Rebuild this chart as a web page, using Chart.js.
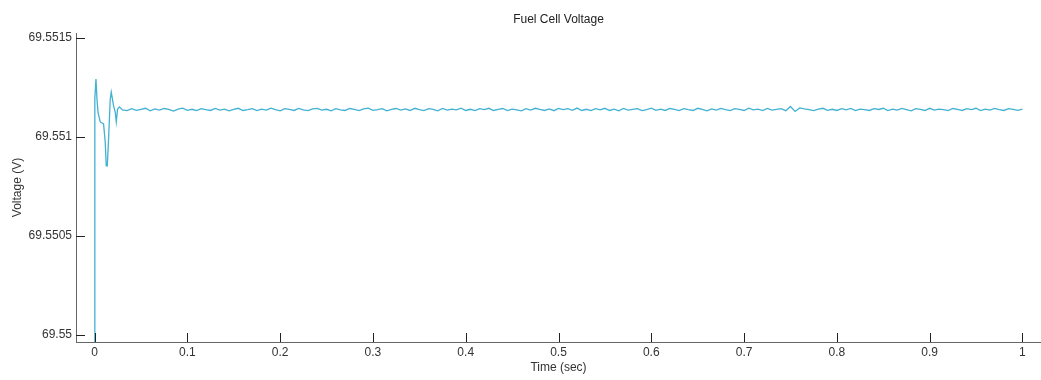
<!DOCTYPE html>
<html>
<head>
<meta charset="utf-8">
<title>Fuel Cell Voltage</title>
<script src="https://cdn.jsdelivr.net/npm/chart.js@4.4.1/dist/chart.umd.min.js"></script>
<style>
  html, body { margin: 0; padding: 0; background: #fff; }
  #wrap { width: 1041px; height: 380px; }
</style>
</head>
<body>
<div id="wrap"><canvas id="fcChart" width="1041" height="380"></canvas></div>
<script>
// data
const TITLE = "Fuel Cell Voltage";
const X_TITLE = "Time (sec)";
const Y_TITLE = "Voltage (V)";

const X_TICKS = [0, 0.1, 0.2, 0.3, 0.4, 0.5, 0.6, 0.7, 0.8, 0.9, 1];
const X_TICK_LABELS = ["0", "0.1", "0.2", "0.3", "0.4", "0.5", "0.6", "0.7", "0.8", "0.9", "1"];
const Y_TICKS = [69.55, 69.5505, 69.551, 69.5515];
const Y_TICK_LABELS = ["69.55", "69.5505", "69.551", "69.5515"];

// start-up transient
const TIME_START = [0, 0.0003, 0.0015, 0.0026, 0.0037, 0.0061, 0.0097, 0.0115, 0.0126, 0.0137,
  0.0151, 0.0169, 0.0180, 0.0205, 0.0223, 0.0234, 0.0248, 0.0269];
const VOLT_START = [69.5495, 69.551192, 69.551293, 69.551192, 69.551126, 69.551076, 69.551066, 69.550975, 69.550854, 69.550854,
  69.550990, 69.551192, 69.551227, 69.551157, 69.551126, 69.551076, 69.551141, 69.551152];

// steady part (noisy around 69.55114)
const TIME_STEADY = [
  0.030,0.035,0.040,0.045,0.050,0.055,0.060,0.065,0.070,0.075,0.080,0.085,0.090,0.095,0.100,0.105,0.110,0.115,0.120,0.125,
  0.130,0.135,0.140,0.145,0.150,0.155,0.160,0.165,0.170,0.175,0.180,0.185,0.190,0.195,0.200,0.205,0.210,0.215,0.220,0.225,
  0.230,0.235,0.240,0.245,0.250,0.255,0.260,0.265,0.270,0.275,0.280,0.285,0.290,0.295,0.300,0.305,0.310,0.315,0.320,0.325,
  0.330,0.335,0.340,0.345,0.350,0.355,0.360,0.365,0.370,0.375,0.380,0.385,0.390,0.395,0.400,0.405,0.410,0.415,0.420,0.425,
  0.430,0.435,0.440,0.445,0.450,0.455,0.460,0.465,0.470,0.475,0.480,0.485,0.490,0.495,0.500,0.505,0.510,0.515,0.520,0.525,
  0.530,0.535,0.540,0.545,0.550,0.555,0.560,0.565,0.570,0.575,0.580,0.585,0.590,0.595,0.600,0.605,0.610,0.615,0.620,0.625,
  0.630,0.635,0.640,0.645,0.650,0.655,0.660,0.665,0.670,0.675,0.680,0.685,0.690,0.695,0.700,0.705,0.710,0.715,0.720,0.725,
  0.730,0.735,0.740,0.745,0.750,0.755,0.760,0.765,0.770,0.775,0.780,0.785,0.790,0.795,0.800,0.805,0.810,0.815,0.820,0.825,
  0.830,0.835,0.840,0.845,0.850,0.855,0.860,0.865,0.870,0.875,0.880,0.885,0.890,0.895,0.900,0.905,0.910,0.915,0.920,0.925,
  0.930,0.935,0.940,0.945,0.950,0.955,0.960,0.965,0.970,0.975,0.980,0.985,0.990,0.995,1.000
];
const VOLT_STEADY = [
  69.551137,69.551133,69.551143,69.551135,69.551140,69.551145,69.551132,69.551142,69.551136,69.551144,69.551139,69.551131,69.551141,69.551146,69.551135,69.551140,69.551133,69.551143,69.551138,69.551134,
  69.551144,69.551136,69.551141,69.551132,69.551139,69.551145,69.551134,69.551138,69.551143,69.551133,69.551141,69.551136,69.551146,69.551138,69.551132,69.551143,69.551139,69.551134,69.551144,69.551137,
  69.551133,69.551142,69.551145,69.551136,69.551140,69.551132,69.551143,69.551137,69.551134,69.551144,69.551139,69.551133,69.551142,69.551146,69.551135,69.551138,69.551143,69.551132,69.551140,69.551144,
  69.551136,69.551142,69.551134,69.551145,69.551138,69.551133,69.551143,69.551139,69.551132,69.551144,69.551136,69.551141,69.551137,69.551146,69.551134,69.551140,69.551133,69.551143,69.551138,69.551145,
  69.551134,69.551140,69.551144,69.551133,69.551141,69.551137,69.551132,69.551143,69.551136,69.551145,69.551139,69.551134,69.551142,69.551133,69.551144,69.551138,69.551143,69.551135,69.551146,69.551134,
  69.551140,69.551133,69.551143,69.551137,69.551145,69.551134,69.551141,69.551132,69.551144,69.551136,69.551140,69.551143,69.551133,69.551138,69.551146,69.551135,69.551141,69.551134,69.551144,69.551139,
  69.551133,69.551143,69.551138,69.551134,69.551145,69.551139,69.551132,69.551142,69.551136,69.551144,69.551138,69.551133,69.551143,69.551140,69.551134,69.551146,69.551137,69.551141,69.551133,69.551144,
  69.551136,69.551140,69.551143,69.551133,69.551154,69.551129,69.551147,69.551142,69.551138,69.551133,69.551141,69.551145,69.551135,69.551140,69.551134,69.551143,69.551137,69.551144,69.551133,69.551141,
  69.551138,69.551134,69.551143,69.551139,69.551145,69.551133,69.551141,69.551136,69.551144,69.551138,69.551132,69.551143,69.551139,69.551134,69.551145,69.551136,69.551141,69.551138,69.551133,69.551144,
  69.551139,69.551134,69.551143,69.551138,69.551145,69.551133,69.551141,69.551136,69.551144,69.551138,69.551134,69.551143,69.551139,69.551135,69.551141
];

const LINE_COLOR = "#42b1d2";
const AXIS_COLOR = "#666666";
const TEXT_COLOR = "#333333";
const FONT_FAMILY = "'Liberation Sans', Arial, sans-serif";

const TIME_S = TIME_START.concat(TIME_STEADY);
const VOLTAGE_V = VOLT_START.concat(VOLT_STEADY);

// matlab style: tick marks point into the plot
const INWARD_TICKS = {
  id: "inwardTicks",
  afterDraw(chart){
    const { ctx, chartArea, scales } = chart;
    const len = 9;
    ctx.save();
    ctx.strokeStyle = "#222";
    ctx.lineWidth = 1;
    ctx.beginPath();
    X_TICKS.forEach(v => {
      const px = Math.round(scales.x.getPixelForValue(v)) + 0.5;
      ctx.moveTo(px, chartArea.bottom);
      ctx.lineTo(px, chartArea.bottom - len);
    });
    Y_TICKS.forEach(v => {
      const py = Math.round(scales.y.getPixelForValue(v)) + 0.5;
      ctx.moveTo(chartArea.left, py);
      ctx.lineTo(chartArea.left + len, py);
    });
    ctx.stroke();
    ctx.restore();
  }
};

new Chart(document.getElementById("fcChart"), {
  type: "line",
  data: {
    datasets: [{
      data: TIME_S.map((t, i) => ({ x: t, y: VOLTAGE_V[i] })),
      borderColor: LINE_COLOR,
      borderWidth: 1.3,
      pointRadius: 0,
      tension: 0,
      fill: false
    }]
  },
  options: {
    responsive: false,
    animation: false,
    layout: { padding: 0 },
    plugins: {
      legend: { display: false },
      tooltip: { enabled: false },
      title: {
        display: true,
        text: TITLE,
        fullSize: false,
        color: "#222",
        font: { family: FONT_FAMILY, size: 12, weight: "normal" },
        padding: { top: 12, bottom: 6.6 }
      }
    },
    scales: {
      x: {
        type: "linear",
        min: -0.02,
        max: 1.02,
        afterBuildTicks: s => { s.ticks = X_TICKS.map(v => ({ value: v })); },
        afterFit: s => { s.height = 38; },
        grid: { display: false, drawTicks: false },
        border: { display: true, color: AXIS_COLOR, width: 1 },
        ticks: {
          color: TEXT_COLOR,
          padding: 3,
          maxRotation: 0,
          autoSkip: false,
          font: { family: FONT_FAMILY, size: 12 },
          callback: (v, i) => X_TICK_LABELS[i]
        },
        title: {
          display: true,
          text: X_TITLE,
          color: TEXT_COLOR,
          font: { family: FONT_FAMILY, size: 12 },
          padding: { top: 5, bottom: 5 }
        }
      },
      y: {
        type: "linear",
        min: 69.5499646,
        max: 69.5515253,
        afterBuildTicks: s => { s.ticks = Y_TICKS.map(v => ({ value: v })); },
        afterFit: s => { s.width = 76; },
        grid: { display: false, drawTicks: false },
        border: { display: true, color: AXIS_COLOR, width: 1 },
        ticks: {
          color: TEXT_COLOR,
          padding: 4,
          autoSkip: false,
          font: { family: FONT_FAMILY, size: 12 },
          callback: (v, i) => Y_TICK_LABELS[i]
        },
        title: {
          display: true,
          text: Y_TITLE,
          color: TEXT_COLOR,
          font: { family: FONT_FAMILY, size: 12 },
          padding: { top: 10, bottom: 0 }
        }
      }
    }
  },
  plugins: [INWARD_TICKS]
});
</script>
</body>
</html>
